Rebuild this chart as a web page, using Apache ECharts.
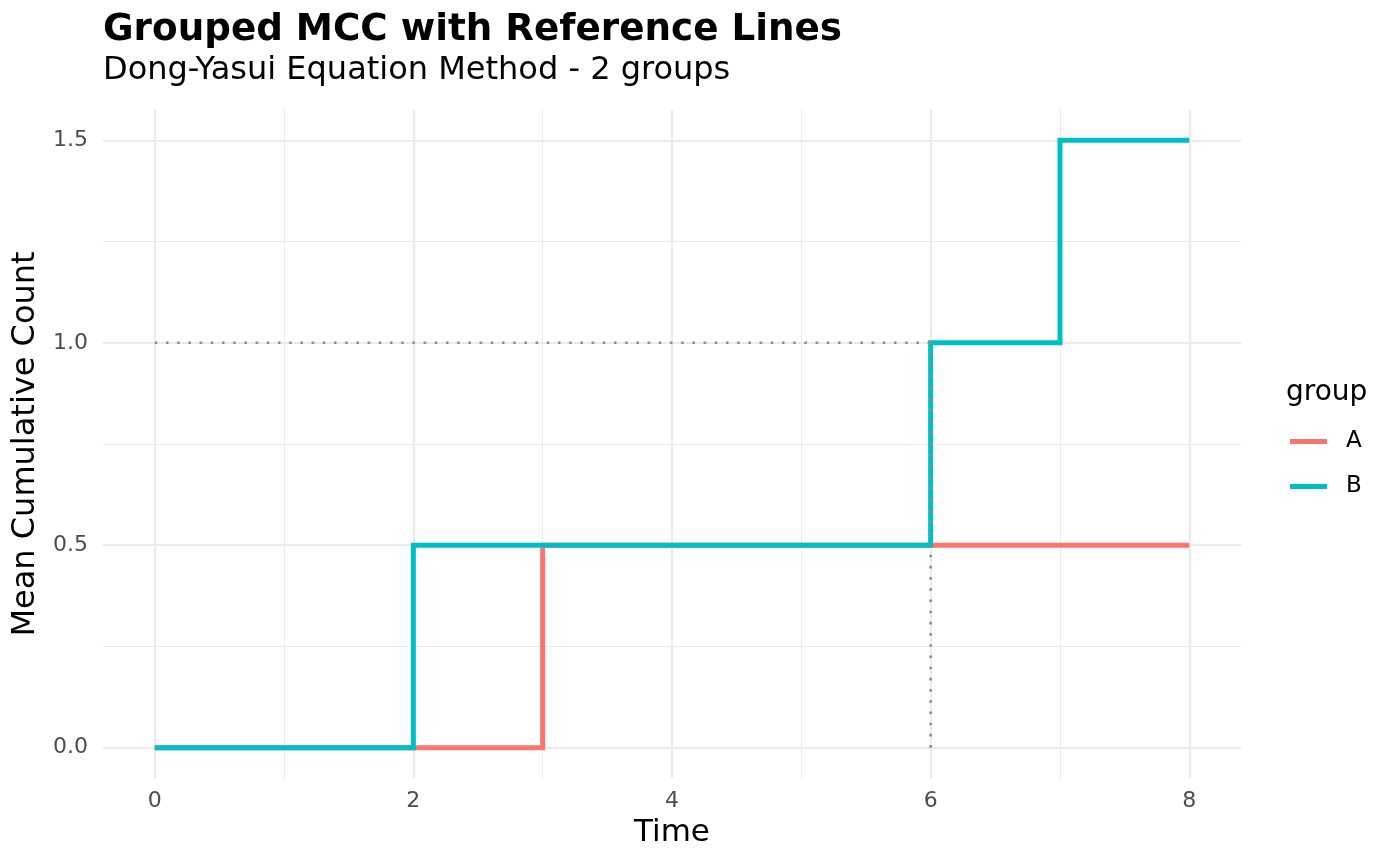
<!DOCTYPE html>
<html>
<head>
<meta charset="utf-8">
<script src="https://cdn.jsdelivr.net/npm/echarts@6/dist/echarts.min.js"></script>
<style>
html,body{margin:0;padding:0;background:#fff;}
#chart{width:1400px;height:866px;}
</style>
</head>
<body>
<div id="chart"></div>
<script>
// ---- data ----
const groupNames = ['A', 'B'];
const timeA = [0, 3, 6, 8];
const valueA = [0, 0.5, 0.5, 0.5];
const timeB = [0, 2, 6, 7, 8];
const valueB = [0, 0.5, 1.0, 1.5, 1.5];
const refTime = 6;
const refValue = 1.0;
const refStart = 0;
const xMajorTicks = [0, 2, 4, 6, 8];
const xMinorTicks = [1, 3, 5, 7];
const yMajorTicks = [0, 0.5, 1.0, 1.5];
const yMinorTicks = [0.25, 0.75, 1.25];
const titleText = 'Grouped MCC with Reference Lines';
const subtitleText = 'Dong-Yasui Equation Method - 2 groups';
const xTitle = 'Time';
const yTitle = 'Mean Cumulative Count';
const legendTitle = 'group';

const colors = ['#F8766D', '#00BFC4'];
const FONT = 'DejaVu Sans';
const xMin = -0.4, xMax = 8.4, yMin = -0.075, yMax = 1.575;

const pairs = (xs, ys) => xs.map((x, i) => [x, ys[i]]);

const chart = echarts.init(document.getElementById('chart'), null, {renderer: 'canvas'});

const gridMajor = {show: true, lineStyle: {color: '#EBEBEB', width: 2.2}};
const gridMinor = {show: true, lineStyle: {color: '#EBEBEB', width: 1.1}};

const refStyle = {color: '#8f8f8f', width: 2.6, type: [2.6, 8.6]};

const option = {
  animation: false,
  backgroundColor: '#ffffff',
  title: [
    {text: titleText, left: 98, top: 7,
     textStyle: {fontFamily: FONT, fontWeight: 'bold', fontSize: 37.3, color: '#000'}},
    {text: subtitleText, left: 98, top: 50,
     textStyle: {fontFamily: FONT, fontWeight: 'normal', fontSize: 32, color: '#000'}},
    {text: legendTitle, left: 1281, top: 374,
     textStyle: {fontFamily: FONT, fontWeight: 'normal', fontSize: 28, color: '#000'}}
  ],
  legend: {
    data: groupNames,
    orient: 'vertical',
    left: 1285,
    top: 425,
    icon: 'rect',
    itemWidth: 37,
    itemHeight: 5,
    itemGap: 22,
    textStyle: {fontFamily: FONT, fontSize: 23, color: '#000', lineHeight: 23, padding: [0, 0, 0, 14]}
  },
  grid: {left: 103, right: 159, top: 110, bottom: 88, containLabel: false},
  xAxis: [
    {type: 'value', min: xMin, max: xMax,
     name: xTitle, nameLocation: 'middle', nameGap: 39,
     nameTextStyle: {fontFamily: FONT, fontSize: 31, color: '#000'},
     axisLine: {show: false}, axisTick: {show: false, customValues: xMajorTicks},
     axisLabel: {customValues: xMajorTicks, fontFamily: FONT, fontSize: 22, color: '#4D4D4D', margin: 12,
                 formatter: v => String(v)},
     splitLine: gridMajor},
    {type: 'value', min: xMin, max: xMax, position: 'top',
     axisLine: {show: false}, axisTick: {show: false, customValues: xMinorTicks},
     axisLabel: {show: false, customValues: xMinorTicks},
     splitLine: gridMinor}
  ],
  yAxis: [
    {type: 'value', min: yMin, max: yMax,
     name: yTitle, nameLocation: 'middle', nameGap: 59, nameRotate: 90,
     nameTextStyle: {fontFamily: FONT, fontSize: 32, color: '#000'},
     axisLine: {show: false}, axisTick: {show: false, customValues: yMajorTicks},
     axisLabel: {customValues: yMajorTicks, fontFamily: FONT, fontSize: 22, color: '#4D4D4D', margin: 15,
                 formatter: v => v.toFixed(1)},
     splitLine: gridMajor},
    {type: 'value', min: yMin, max: yMax, position: 'right',
     axisLine: {show: false}, axisTick: {show: false, customValues: yMinorTicks},
     axisLabel: {show: false, customValues: yMinorTicks},
     splitLine: gridMinor}
  ],
  series: [
    {name: groupNames[0], type: 'line', step: 'end', data: pairs(timeA, valueA),
     showSymbol: false, symbol: 'none', color: colors[0],
     lineStyle: {color: colors[0], width: 5, cap: 'butt', join: 'miter'}, z: 2},
    {name: groupNames[1], type: 'line', step: 'end', data: pairs(timeB, valueB),
     showSymbol: false, symbol: 'none', color: colors[1],
     lineStyle: {color: colors[1], width: 5, cap: 'butt', join: 'miter'}, z: 3},
    {name: 'refH', type: 'line', data: [[refStart, refValue], [refTime, refValue]],
     showSymbol: false, symbol: 'none', lineStyle: refStyle, z: 4, silent: true},
    {name: 'refV', type: 'line', data: [[refTime, refStart], [refTime, refValue]],
     showSymbol: false, symbol: 'none', lineStyle: refStyle, z: 4, silent: true}
  ]
};
chart.setOption(option);
</script>
</body>
</html>
